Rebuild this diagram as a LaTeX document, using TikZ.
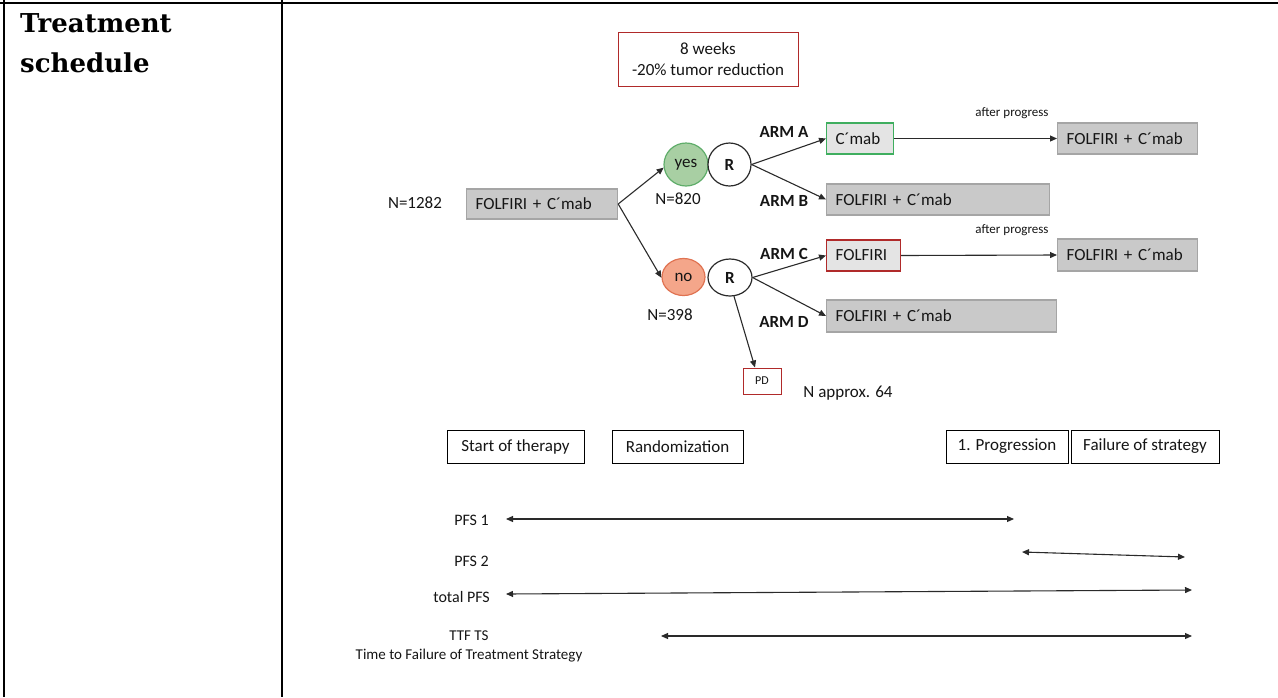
\documentclass[tikz,border=0pt]{standalone}
\usepackage{fontspec}
\setmainfont{Carlito}
\newfontfamily\titlefont{DejaVu Serif}
\usetikzlibrary{shapes.geometric,arrows.meta}
\definecolor{boxgray}{HTML}{C9C9C9}
\definecolor{boxedge}{HTML}{A5A5A5}
\definecolor{lightbox}{HTML}{E4E4E4}
\definecolor{darkred}{HTML}{B02A2A}
\definecolor{armgreen}{HTML}{3FAE5F}
\definecolor{yesfill}{HTML}{A8CFA3}
\definecolor{yesedge}{HTML}{5FAD6A}
\definecolor{nofill}{HTML}{F4A68A}
\definecolor{noedge}{HTML}{E07352}
\definecolor{ink}{HTML}{151515}
\definecolor{arrowink}{HTML}{2A2A2A}
\begin{document}
\begin{tikzpicture}[x=1pt,y=-1pt,
  every node/.style={font=\fontsize{17}{21}\selectfont, text=ink},
  txt/.style={inner sep=0pt},
  small/.style={inner sep=0pt, font=\fontsize{13}{15}\selectfont},
  armlabel/.style={inner sep=0pt, font=\bfseries\fontsize{17}{21}\selectfont},
  tablerule/.style={line width=2.5pt, black},
  graybox/.style={draw=boxedge, fill=boxgray, line width=1.2pt, minimum height=31pt,
    inner xsep=9pt, inner ysep=0pt, align=left, anchor=west},
  lightgreenbox/.style={graybox, draw=armgreen, fill=lightbox},
  lightredbox/.style={graybox, draw=darkred, fill=lightbox},
  redframe/.style={draw=darkred, fill=white, line width=1pt, align=center},
  blackframe/.style={draw=black, fill=white, line width=0.9pt, minimum height=33pt, inner xsep=0pt},
  oval/.style={ellipse, line width=1.2pt, inner sep=0pt},
  conn/.style={draw=arrowink, line width=1.1pt, -{Triangle[length=7pt,width=6pt]}},
  span/.style={draw=arrowink, line width=1.1pt, {Triangle[length=7pt,width=6pt]}-{Triangle[length=7pt,width=6pt]}},
  tllabel/.style={inner sep=0pt, anchor=east, font=\fontsize{16}{19}\selectfont}
]
\useasboundingbox (0,0) rectangle (1278,697);

% table frame
\draw[tablerule] (0,3) -- (1278,3);
\draw[tablerule] (4,0) -- (4,697);
\draw[tablerule] (282,0) -- (282,697);

% title
\node[anchor=base west, inner sep=0pt, text=black,
      font=\titlefont\bfseries\fontsize{26}{30}\selectfont] (title1) at (20,32) {Treatment};
\node[anchor=base west, inner sep=0pt, text=black,
      font=\titlefont\bfseries\fontsize{26}{30}\selectfont] (title2) at (20,72) {schedule};

% top criterion box
\node[redframe, minimum width=180pt, minimum height=54pt, inner sep=0pt] (crit) at (708,59)
  {8 weeks\\-20\% tumor reduction};

% start
\node[txt] (n1282) at (415,203) {N=1282};
\node[graybox, text width=133pt, minimum height=30pt] (start) at (466,204) {FOLFIRI + C´mab};

% yes / no
\node[oval, draw=yesedge, fill=yesfill, minimum width=44pt, minimum height=43pt] (yes) at (686,164.5) {yes};
\node[oval, draw=arrowink, fill=white, minimum width=43pt, minimum height=43pt, font=\bfseries\fontsize{17}{21}\selectfont] (r1) at (729.5,164.5) {R};
\node[oval, draw=noedge, fill=nofill, minimum width=43pt, minimum height=37pt] (no) at (683.5,277) {no};
\node[oval, draw=arrowink, fill=white, minimum width=44pt, minimum height=37pt, font=\bfseries\fontsize{17}{21}\selectfont] (r2) at (730,277.5) {R};

\node[txt] (n820) at (678,199) {N=820};
\node[txt] (n398) at (670,315) {N=398};

% arm labels
\node[armlabel] (armA) at (784,132) {ARM A};
\node[armlabel] (armB) at (784,201) {ARM B};
\node[armlabel] (armC) at (784,254) {ARM C};
\node[armlabel] (armD) at (784,322) {ARM D};

% arm boxes
\node[lightgreenbox, text width=49pt] (boxA) at (826,138.5) {C´mab};
\node[graybox, text width=122pt] (boxA2) at (1057,138.5) {FOLFIRI + C´mab};
\node[graybox, text width=205pt] (boxB) at (826,199.5) {FOLFIRI + C´mab};
\node[lightredbox, text width=56pt] (boxC) at (826,255.5) {FOLFIRI};
\node[graybox, text width=122pt, minimum height=32pt] (boxC2) at (1057,255) {FOLFIRI + C´mab};
\node[graybox, text width=212pt, minimum height=32pt] (boxD) at (826,316) {FOLFIRI + C´mab};

\node[small] (ap1) at (1012,113) {after progress};
\node[small] (ap2) at (1012,230) {after progress};

% PD
\node[redframe, minimum width=38pt, minimum height=26pt, inner sep=0pt,
      font=\fontsize{12}{14}\selectfont] (pd) at (762,381) {PD};
\node[txt] (napprox) at (848,393) {N approx. 64};

% connectors of the tree
\draw[conn] (start.east) -- (yes.188);
\draw[conn] (start.east) -- (no.182);
\draw[conn] (r1.east) -- (boxA.west);
\draw[conn] (r1.east) -- (boxB.west);
\draw[conn] (r2.east) -- (boxC.west);
\draw[conn] (r2.east) -- (boxD.west);
\draw[conn] (r2.-78) -- ([xshift=-7pt]pd.north);
\draw[conn] (boxA.east) -- (boxA2.west);
\draw[conn] (boxC.east) -- (boxC2.west);

% milestone boxes
\node[blackframe, minimum width=137pt] (mstart) at (515.5,446.5) {Start of therapy};
\node[blackframe, minimum width=131pt] (mrand) at (677.5,446.5) {Randomization};
\node[blackframe, minimum width=122pt] (mprog) at (1007,446.5) {1. Progression};
\node[blackframe, minimum width=148pt] (mfail) at (1145,446.5) {Failure of strategy};

% timeline
\node[tllabel] (lpfs1) at (489,520) {PFS 1};
\node[tllabel] (lpfs2) at (489,561) {PFS 2};
\node[tllabel] (ltot) at (490,597) {total PFS};
\node[inner sep=0pt, align=center, font=\fontsize{15}{19}\selectfont] (lttf) at (469,646)
  {TTF TS\\Time to Failure of Treatment Strategy};

\coordinate (p1a) at (506,519);
\coordinate (p1b) at (1014,519);
\coordinate (p2a) at (1022,552);
\coordinate (p2b) at (1185,557);
\coordinate (pta) at (506,594);
\coordinate (ptb) at (1192,590);
\coordinate (pfa) at (661,636);
\coordinate (pfb) at (1192,636);
\draw[span] (p1a) -- (p1b);
\draw[span] (p2a) -- (p2b);
\draw[span] (pta) -- (ptb);
\draw[span] (pfa) -- (pfb);
\end{tikzpicture}
\end{document}
